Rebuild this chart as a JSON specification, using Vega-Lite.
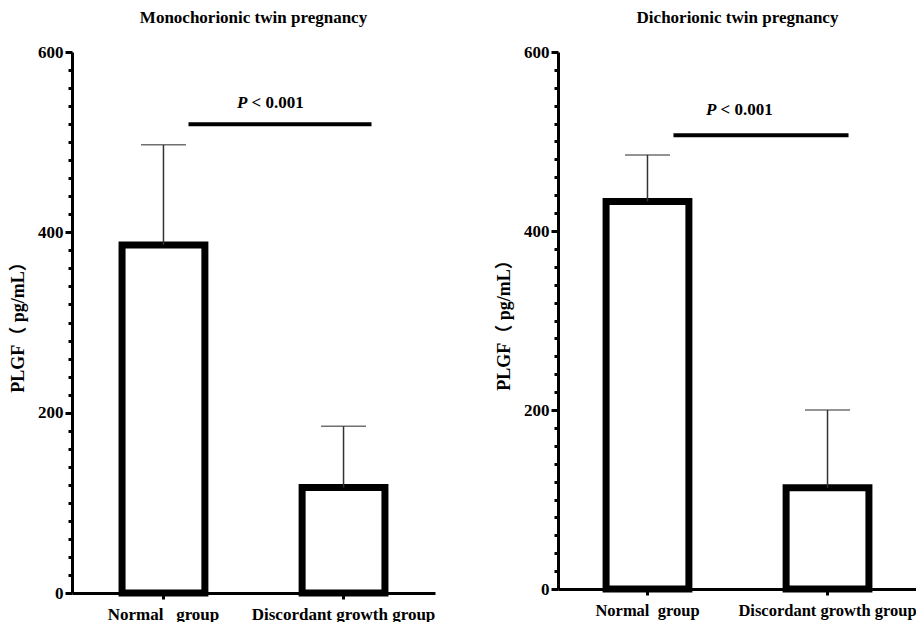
{
  "$schema": "https://vega.github.io/schema/vega-lite/v6.json",
  "background": "white",
  "padding": {"left": 9, "top": 9, "right": 0, "bottom": 0},
  "spacing": 60,
  "config": {
    "font": "Liberation Serif",
    "view": {"stroke": null},
    "axis": {
      "domainColor": "black", "domainWidth": 3, "tickColor": "black", "tickWidth": 3,
      "labelFont": "Liberation Serif", "labelFontWeight": "bold", "labelColor": "black",
      "titleFont": "Liberation Serif, Noto Sans CJK SC", "titleFontWeight": "bold", "titleColor": "black",
      "grid": false, "labelOverlap": false, "labelLimit": 0
    },
    "title": {"font": "Liberation Serif", "fontWeight": "bold", "fontSize": 17, "color": "black", "offset": 16}
  },
  "hconcat": [
    {
      "title": "Monochorionic twin pregnancy",
      "width": 363, "height": 541,
      "data": {"values": [
        {"group": "Normal group", "mean": 386, "upper": 497},
        {"group": "Discordant growth group", "mean": 117, "upper": 185}
      ]},
      "resolve": {"axis": {"y": "independent"}},
      "layer": [
        {
          "mark": {"type": "bar", "fill": "white", "stroke": "black", "strokeWidth": 7},
          "encoding": {
            "x": {"field": "group", "type": "nominal", "sort": null,
              "scale": {"paddingInner": 0.54, "paddingOuter": 0.278},
              "axis": {"labelAngle": 0, "labelFontSize": 17, "tickSize": 6, "title": null, "labelPadding": 7,
                "labelExpr": "datum.value == 'Normal group' ? 'Normal\u00a0\u00a0\u00a0group' : datum.label"}},
            "y": {"field": "mean", "type": "quantitative", "scale": {"domain": [0, 600]},
              "axis": {
                "orient": "left",
                "values": [0, 200, 400, 600],
                "tickSize": 7,
                "labelFontSize": 17, "labelPadding": 2,
                "title": "PLGF（ pg/mL）", "titleFontSize": 18, "titlePadding": 10
              }}
          }
        },
        {
          "mark": {"type": "rule", "color": "#333333", "strokeWidth": 1.5},
          "encoding": {
            "x": {"field": "group", "type": "nominal", "sort": null},
            "y": {"field": "mean", "type": "quantitative",
              "axis": {
                "orient": "left",
                "values": [20,40,60,80,100,120,140,160,180,220,240,260,280,300,320,340,360,380,420,440,460,480,500,520,540,560,580],
                "labels": false, "domain": false, "tickSize": 4, "title": null
              }},
            "y2": {"field": "upper"}
          }
        },
        {
          "mark": {"type": "tick", "color": "#333333", "thickness": 1.5, "size": 45},
          "encoding": {
            "x": {"field": "group", "type": "nominal", "sort": null},
            "y": {"field": "upper", "type": "quantitative", "axis": null}
          }
        },
        {
          "data": {"values": [{"from": "Normal group", "to": "Discordant growth group", "y": 520, "ty": 543, "p": "P", "txt": "< 0.001"}]},
          "layer": [
            {
              "mark": {"type": "rule", "color": "black", "strokeWidth": 4, "xOffset": 25, "x2Offset": 28},
              "encoding": {
                "x": {"field": "from", "type": "nominal", "sort": null},
                "x2": {"field": "to"},
                "y": {"field": "y", "type": "quantitative", "axis": null}
              }
            },
            {
              "mark": {"type": "text", "align": "left", "baseline": "middle", "fontSize": 17, "fontWeight": "bold", "fontStyle": "italic", "xOffset": 73.5, "color": "black"},
              "encoding": {
                "x": {"field": "from", "type": "nominal", "sort": null},
                "y": {"field": "ty", "type": "quantitative", "axis": null},
                "text": {"field": "p"}
              }
            },
            {
              "mark": {"type": "text", "align": "left", "baseline": "middle", "fontSize": 17, "fontWeight": "bold", "xOffset": 88, "color": "black"},
              "encoding": {
                "x": {"field": "from", "type": "nominal", "sort": null},
                "y": {"field": "ty", "type": "quantitative", "axis": null},
                "text": {"field": "txt"}
              }
            }
          ]
        }
      ]
    },
    {
      "title": "Dichorionic twin pregnancy",
      "width": 359, "height": 537,
      "data": {"values": [
        {"group": "Normal group", "mean": 433, "upper": 485},
        {"group": "Discordant growth group", "mean": 113, "upper": 200}
      ]},
      "resolve": {"axis": {"y": "independent"}},
      "layer": [
        {
          "mark": {"type": "bar", "fill": "white", "stroke": "black", "strokeWidth": 7},
          "encoding": {
            "x": {"field": "group", "type": "nominal", "sort": null,
              "scale": {"paddingInner": 0.54, "paddingOuter": 0.267},
              "axis": {"labelAngle": 0, "labelFontSize": 16.5, "tickSize": 6, "title": null, "labelPadding": 7,
                "labelExpr": "datum.value == 'Normal group' ? 'Normal\u00a0\u00a0group' : datum.label"}},
            "y": {"field": "mean", "type": "quantitative", "scale": {"domain": [0, 600]},
              "axis": {
                "orient": "left",
                "values": [0, 200, 400, 600],
                "tickSize": 7,
                "labelFontSize": 17, "labelPadding": 2,
                "title": "PLGF（ pg/mL）", "titleFontSize": 18, "titlePadding": 10
              }}
          }
        },
        {
          "mark": {"type": "rule", "color": "#333333", "strokeWidth": 1.5},
          "encoding": {
            "x": {"field": "group", "type": "nominal", "sort": null},
            "y": {"field": "mean", "type": "quantitative",
              "axis": {
                "orient": "left",
                "values": [20,40,60,80,100,120,140,160,180,220,240,260,280,300,320,340,360,380,420,440,460,480,500,520,540,560,580],
                "labels": false, "domain": false, "tickSize": 4, "title": null
              }},
            "y2": {"field": "upper"}
          }
        },
        {
          "mark": {"type": "tick", "color": "#333333", "thickness": 1.5, "size": 45},
          "encoding": {
            "x": {"field": "group", "type": "nominal", "sort": null},
            "y": {"field": "upper", "type": "quantitative", "axis": null}
          }
        },
        {
          "data": {"values": [{"from": "Normal group", "to": "Discordant growth group", "y": 507, "ty": 535, "p": "P", "txt": "< 0.001"}]},
          "layer": [
            {
              "mark": {"type": "rule", "color": "black", "strokeWidth": 4, "xOffset": 26, "x2Offset": 21},
              "encoding": {
                "x": {"field": "from", "type": "nominal", "sort": null},
                "x2": {"field": "to"},
                "y": {"field": "y", "type": "quantitative", "axis": null}
              }
            },
            {
              "mark": {"type": "text", "align": "left", "baseline": "middle", "fontSize": 17, "fontWeight": "bold", "fontStyle": "italic", "xOffset": 58.5, "color": "black"},
              "encoding": {
                "x": {"field": "from", "type": "nominal", "sort": null},
                "y": {"field": "ty", "type": "quantitative", "axis": null},
                "text": {"field": "p"}
              }
            },
            {
              "mark": {"type": "text", "align": "left", "baseline": "middle", "fontSize": 17, "fontWeight": "bold", "xOffset": 73, "color": "black"},
              "encoding": {
                "x": {"field": "from", "type": "nominal", "sort": null},
                "y": {"field": "ty", "type": "quantitative", "axis": null},
                "text": {"field": "txt"}
              }
            }
          ]
        }
      ]
    }
  ]
}
